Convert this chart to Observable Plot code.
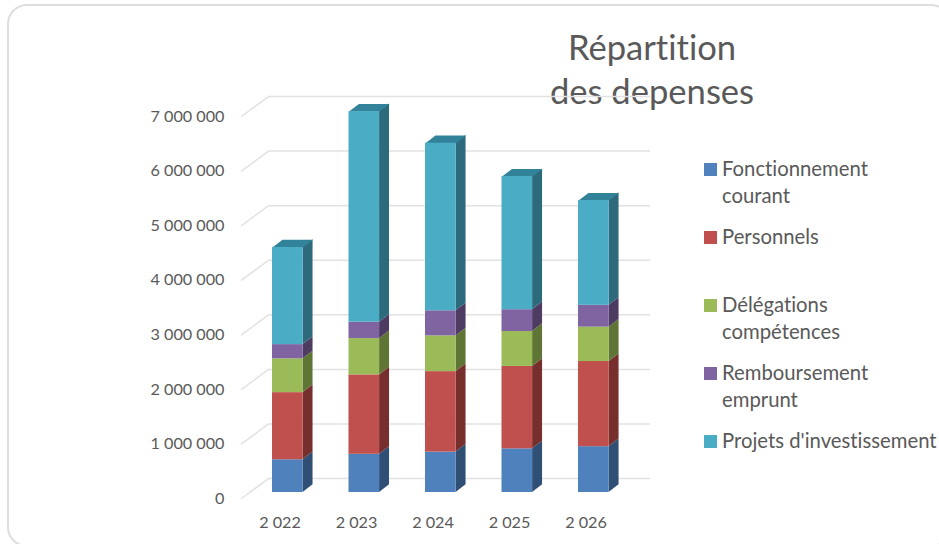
<!DOCTYPE html>
<html><head><meta charset="utf-8">
<script src="https://cdn.jsdelivr.net/npm/d3@7"></script>
<script src="https://cdn.jsdelivr.net/npm/@observablehq/plot@0.6"></script>
<style>
html,body{margin:0;padding:0;background:#fff;overflow:hidden}
#wrap{position:relative;width:939px;height:544px;overflow:hidden;font-family:Lato,sans-serif;color:#595959;font-variant-ligatures:none}
#card{position:absolute;left:7px;top:4px;width:944px;height:543px;border:2px solid #dedede;border-radius:20px;box-sizing:border-box}
#title{position:absolute;left:502px;width:300px;top:25px;text-align:center;font-size:34.6px;line-height:44px}
.lg{position:absolute;left:722px;font-size:20.3px;line-height:27px;white-space:nowrap}
.lg i{position:absolute;left:-18px;top:8px;width:13px;height:13px}
svg{position:absolute;left:0;top:0}
</style></head><body><div id="wrap"><div id="card"></div><div id="title">Répartition<br>des depenses</div></div>
<script>
const years = ["2 022","2 023","2 024","2 025","2 026"];
const seriesNames = ["Fonctionnement courant","Personnels","Délégations compétences","Remboursement emprunt","Projets d'investissement"];
const fonctionnement = [600000,700000,740000,800000,840000];
const personnels = [1230000,1455000,1475000,1510000,1560000];
const delegations = [620000,665000,655000,640000,630000];
const remboursement = [260000,300000,460000,400000,400000];
const projets = [1780000,3860000,3070000,2440000,1920000];
const yTicks = [0,1000000,2000000,3000000,4000000,5000000,6000000,7000000];
const frontColors = ["#4f81bd","#c0504d","#9bbb59","#8064a2","#4bacc6"];
const sideColors = ["#2f4f75","#772f2d","#5f7535","#4d3b62","#2c6a7c"];
const topColor = "#32829a";
const legendTop = [155,223,291,359,427];
const legendLines = [["Fonctionnement","courant"],["Personnels"],["Délégations","compétences"],["Remboursement","emprunt"],["Projets d'investissement"]];

const all = [fonctionnement,personnels,delegations,remboursement,projets];
const barW = 0.4, depthX = 0.13, depthY = 140000;
const rects = [], sides = [];
years.forEach((_,i)=>{
  let b = 0;
  all.forEach((s,k)=>{
    const t = b + s[i];
    rects.push({x1:i,x2:i+barW,y1:b,y2:t,k});
    sides.push({id:i+"-"+k,k,x:i+barW,y1:b,y2:t},{id:i+"-"+k,k,x:i+barW+depthX,y1:b+depthY,y2:t+depthY});
    b = t;
  });
});
const topPolys = years.map((_,i)=>{
  const t = all.reduce((a,s)=>a+s[i],0);
  return [[i,t],[i+barW,t],[i+barW+depthX,t+depthY],[i+depthX,t+depthY]].map(([x,y])=>({id:i,x,y}));
}).flat();
const wallOff = 256000, leftOff = -110000, wallLeft = -0.052, wallRight = 4.941;
const wall = yTicks.map(v=>({v:v+wallOff}));
const diag = yTicks.flatMap(v=>[{v,x:-0.405,y:v+leftOff},{v,x:wallLeft,y:v+wallOff}]);
const fmt = v => d3.format(",")(v).replace(/,/g," ");

const chart = Plot.plot({
  width:939,height:544,marginLeft:241,marginRight:289,marginTop:90,marginBottom:46,
  style:{fontFamily:"Lato,sans-serif",background:"transparent",overflow:"visible",fontVariantLigatures:"none"},
  x:{domain:[-0.405,wallRight],range:[241,650],axis:null},
  y:{domain:[0,7000000],range:[492,110],axis:null},
  marks:[
    Plot.ruleY(wall,{y:"v",x1:wallLeft,x2:wallRight,stroke:"#e2e2e2",strokeWidth:1.5}),
    Plot.line(diag,{x:"x",y:"y",z:"v",stroke:"#e2e2e2",strokeWidth:1.5}),
    Plot.areaY(sides,{x:"x",y1:"y1",y2:"y2",z:"id",fill:d=>sideColors[d.k],curve:"linear"}),
    Plot.line(topPolys,{x:"x",y:"y",z:"id",fill:topColor,stroke:null,curve:"linear-closed"}),
    Plot.rect(rects,{x1:"x1",x2:"x2",y1:"y1",y2:"y2",fill:d=>frontColors[d.k]}),
    Plot.axisY(yTicks,{anchor:"left",tickSize:0,tickPadding:17,dy:6,tickFormat:fmt,fill:"#595959",fontSize:16.2,label:null}),
    Plot.axisX(years.map((_,i)=>i),{anchor:"bottom",tickSize:0,tickPadding:18,dx:7.5,tickFormat:i=>years[i],fill:"#595959",fontSize:16.2,label:null})
  ]
});
const wrap = document.getElementById("wrap");
wrap.appendChild(chart);
legendLines.forEach((ls,k)=>{
  const d = document.createElement("div");
  d.className = "lg";
  d.style.top = legendTop[k]+"px";
  d.innerHTML = `<i style="background:${frontColors[k]}"></i>`+ls.join("<br>");
  wrap.appendChild(d);
});
</script></body></html>
